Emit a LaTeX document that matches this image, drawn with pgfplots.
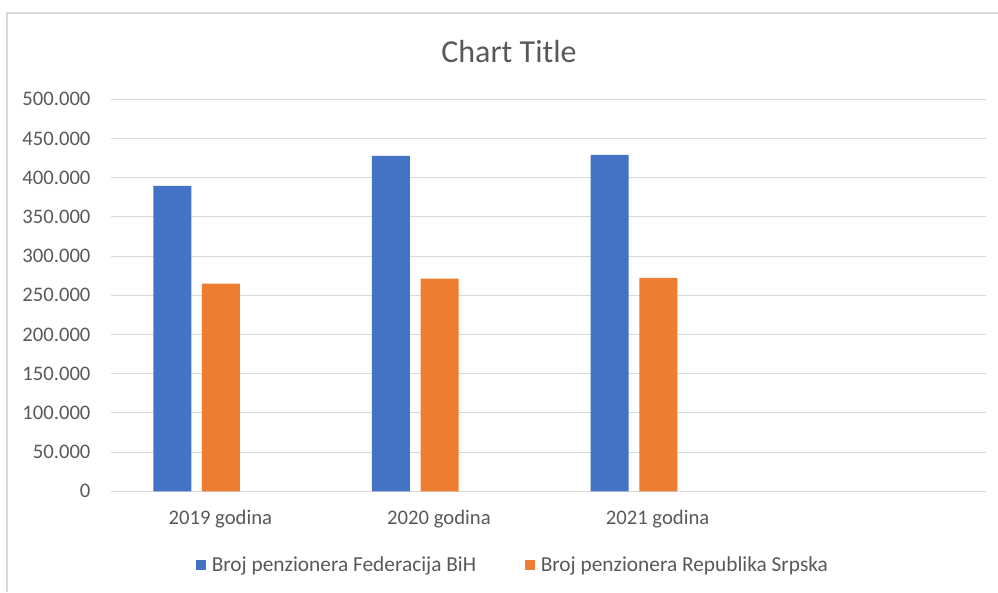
\documentclass[border=0pt]{standalone}
\usepackage{pgfplots}
\pgfplotsset{compat=1.18}
\usepackage{fontspec}
\setmainfont{Carlito}

\definecolor{fedblue}{HTML}{4472C4}
\definecolor{rsorange}{HTML}{ED7D31}
\definecolor{txtgrey}{HTML}{595959}
\definecolor{gridgrey}{HTML}{D9D9D9}

\begin{document}
\begin{tikzpicture}
\path[use as bounding box] (0,0) rectangle (748.5pt,444pt);
% chart frame (only left and top edge visible)
\draw[gridgrey, line width=1.2pt] (5.25pt,0) -- (5.25pt,434.25pt) -- (748.5pt,434.25pt);
\node[txtgrey, font=\fontsize{24}{28}\selectfont] at (381.75pt,405pt) {Chart Title};

\begin{axis}[
  at={(83.25pt,75.5pt)}, anchor=south west,
  scale only axis, width=655.9pt, height=294pt,
  ymin=0, ymax=500000,
  ytick={0,50000,100000,150000,200000,250000,300000,350000,400000,450000,500000},
  yticklabels={0,50.000,100.000,150.000,200.000,250.000,300.000,350.000,400.000,450.000,500.000},
  xmin=-0.5, xmax=3.5,
  xtick={0,1,2,3},
  xticklabels={2019 godina,2020 godina,2021 godina,},
  scaled y ticks=false,
  axis line style={draw=none},
  major tick length=0pt,
  ymajorgrids, major grid style={gridgrey, line width=0.8pt},
  tick label style={txtgrey, font=\fontsize{15.5}{18}\selectfont},
  yticklabel style={anchor=east, inner sep=0pt, xshift=-15.2pt},
  xticklabel style={anchor=center, inner sep=0pt, yshift=-20.8pt},
  ybar, bar width=28.5pt,
  legend columns=2,
  legend style={at={(0.4603,-0.188)}, anchor=center, draw=none,
    font=\fontsize{16}{19}\selectfont, text=txtgrey,
    /tikz/every odd column/.append style={column sep=2pt},
    /tikz/every even column/.append style={column sep=35pt}},
  legend image code/.code={\fill[#1] (0pt,-3.75pt) rectangle (7.5pt,3.75pt);},
]
\addplot[fill=fedblue, draw=none, bar shift=-36pt] coordinates {(0,389500) (1,428000) (2,429000)};
\addplot[fill=rsorange, draw=none, bar shift=0.5pt] coordinates {(0,264800) (1,271200) (2,272400)};
\legend{Broj penzionera Federacija BiH, Broj penzionera Republika Srpska}
\end{axis}
\end{tikzpicture}
\end{document}
